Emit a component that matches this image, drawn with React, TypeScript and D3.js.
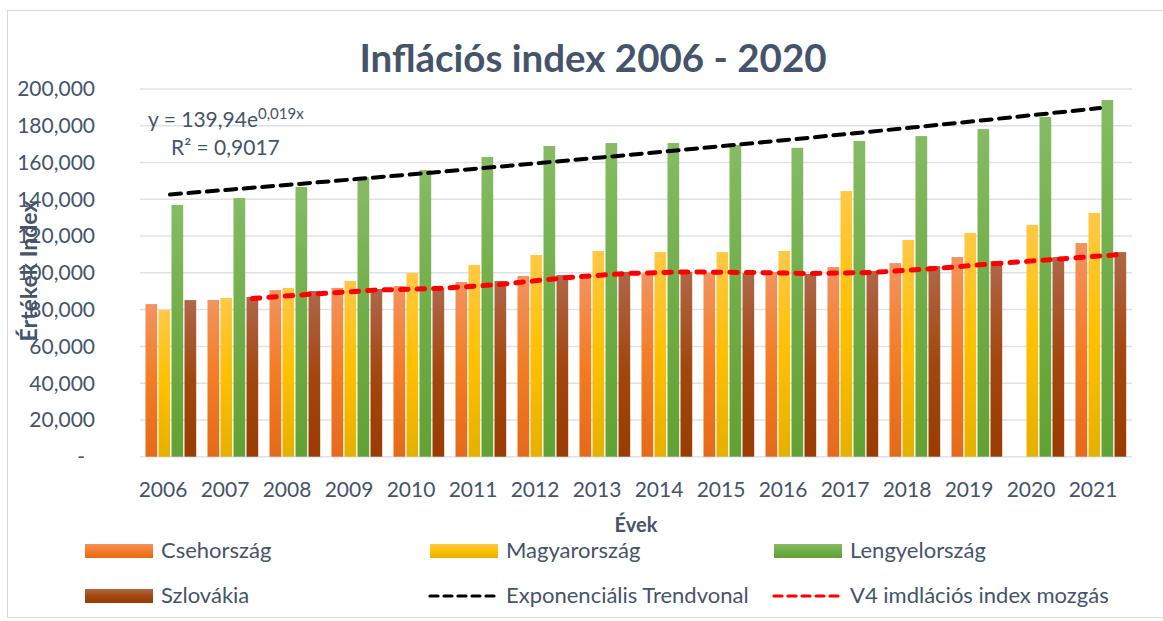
import React from "react";
import * as d3 from "d3";

const years = ["2006","2007","2008","2009","2010","2011","2012","2013","2014","2015","2016","2017","2018","2019","2020","2021"];
const cseh: (number | null)[] = [83.0, 85.2, 90.6, 91.8, 92.8, 95.0, 98.3, 98.9, 99.8, 100.1, 100.5, 103.2, 105.3, 108.6, null, 116.2];
const magyar = [79.8, 86.3, 91.8, 95.6, 99.9, 104.3, 109.7, 111.9, 111.3, 111.3, 111.9, 144.5, 117.9, 121.7, 126.1, 132.6];
const lengyel = [136.9, 140.7, 146.7, 152.0, 155.9, 163.0, 169.0, 170.6, 170.6, 169.5, 168.0, 171.7, 174.4, 178.2, 184.8, 194.0];
const szlovak = [85.2, 86.9, 90.1, 91.2, 91.8, 95.6, 98.8, 100.5, 100.5, 99.9, 99.4, 101.0, 103.7, 106.4, 108.6, 111.3];
const yTicks = [0, 20, 40, 60, 80, 100, 120, 140, 160, 180, 200];
const trendA = 139.94;
const trendB = 0.019;

const seriesNames = ["Csehország", "Magyarország", "Lengyelország", "Szlovákia"];
const seriesData = [cseh, magyar, lengyel, szlovak];
const gradIds = ["gCseh", "gMagyar", "gLengyel", "gSzlovak"];
const gradStops = [
  ["#F2935F", "#F47C24", "#E5691A"],
  ["#FFC846", "#FFC000", "#E6B000"],
  ["#86BB64", "#70AD47", "#62A133"],
  ["#AF6749", "#A3470F", "#9A3C00"],
];

const FONT = "Lato, 'Open Sans', sans-serif";
const TXT = "#44546A";

export default function App() {
  const plotL = 140, plotR = 1132, plotT = 89, plotB = 456.7;
  const y = d3.scaleLinear().domain([0, 200]).range([plotB, plotT]);
  const x0 = d3.scaleBand<string>().domain(years).range([plotL, plotR]).paddingInner(0).paddingOuter(0);
  const bw = x0.bandwidth();
  const x1 = d3.scaleBand<string>().domain(seriesNames).range([5.5, bw - 4.5]);
  const slot = x1.bandwidth();
  const barW = slot - 1.3;

  const trendPts: [number, number][] = years.map((yr, i) => [
    (x0(yr) as number) + bw / 2 - 1,
    y(trendA * Math.exp(trendB * (i + 1))),
  ]);
  const maPts: [number, number][] = [];
  for (let i = 1; i < years.length; i++) {
    maPts.push([
      (x0(years[i]) as number) + (x1("Szlovákia") as number) + barW / 2,
      y((szlovak[i - 1] + szlovak[i]) / 2),
    ]);
  }
  const line = d3.line();
  const fmt = (v: number) => (v === 0 ? "-" : d3.format(",.0f")(v * 1000));

  const legendRows = [
    [
      { kind: "bar", i: 0, x: 85, label: "Csehország" },
      { kind: "bar", i: 1, x: 430, label: "Magyarország" },
      { kind: "bar", i: 2, x: 774, label: "Lengyelország" },
    ],
    [
      { kind: "bar", i: 3, x: 85, label: "Szlovákia" },
      { kind: "black", i: 0, x: 430, label: "Exponenciális Trendvonal" },
      { kind: "red", i: 0, x: 774, label: "V4 imdlációs index mozgás" },
    ],
  ];
  const rowY = [544, 589];

  return (
    <div style={{ position: "absolute", left: 0, top: 0 }}>
      <svg width={1163} height={621} style={{ display: "block", background: "#fff" }}>
        <defs>
          {gradIds.map((id, k) => (
            <linearGradient key={id} id={id} x1="0" y1="0" x2="0" y2="1">
              <stop offset="0" stopColor={gradStops[k][0]} />
              <stop offset="0.5" stopColor={gradStops[k][1]} />
              <stop offset="1" stopColor={gradStops[k][2]} />
            </linearGradient>
          ))}
        </defs>
        <rect x={7.5} y={10.5} width={1200} height={607} fill="#fff" stroke="#D9D9D9" strokeWidth={1} />

        {/* gridlines */}
        {yTicks.map((t) => (
          <line key={t} x1={plotL} x2={plotR} y1={y(t)} y2={y(t)} stroke="#DEE2E7" strokeWidth={1.5} />
        ))}

        {/* y tick labels */}
        {yTicks.map((t) => (
          <text key={t} x={t === 0 ? 85 : 95} y={y(t)} dy="0.35em" textAnchor="end" fontFamily={FONT} fontSize={21} fill={TXT}>
            {fmt(t)}
          </text>
        ))}

        {/* bars */}
        {years.map((yr, i) => (
          <g key={yr} transform={`translate(${x0(yr)},0)`}>
            {seriesNames.map((s, k) => {
              const v = seriesData[k][i];
              if (v == null) return null;
              return (
                <rect key={s} x={(x1(s) as number)} y={y(v)} width={barW} height={y(0) - y(v)} fill={`url(#${gradIds[k]})`} />
              );
            })}
          </g>
        ))}

        {/* trend lines */}
        <path d={line(trendPts) || ""} fill="none" stroke="#000" strokeWidth={4} strokeDasharray="11 7.5" strokeLinecap="round" />
        <path d={line(maPts) || ""} fill="none" stroke="#FF0000" strokeWidth={5} strokeDasharray="7.5 9" strokeLinecap="round" />

        {/* x tick labels */}
        {years.map((yr) => (
          <text key={yr} x={(x0(yr) as number) + bw / 2 - 8} y={497} textAnchor="middle" fontFamily={FONT} fontSize={21} fill={TXT}>
            {yr}
          </text>
        ))}

        {/* title */}
        <text x={593} y={72} textAnchor="middle" fontFamily={FONT} fontWeight="bold" fontSize={38.5} fill={TXT}>
          Inflációs index 2006 - 2020
        </text>

        {/* equation */}
        <text x={148} y={127} fontFamily={FONT} fontSize={21} fill={TXT}>
          y = 139,94e<tspan fontSize={15} dy={-8}>0,019x</tspan>
        </text>
        <text x={171} y={155} fontFamily={FONT} fontSize={21} fill={TXT}>
          R² = 0,9017
        </text>

        {/* axis titles */}
        <text transform="translate(37,271) rotate(-90)" textAnchor="middle" fontFamily={FONT} fontWeight="bold" fontSize={23} fill={TXT}>
          Értékek Index
        </text>
        <text x={636} y={532} textAnchor="middle" fontFamily={FONT} fontWeight="bold" fontSize={20} fill={TXT}>
          Évek
        </text>

        {/* legend */}
        {legendRows.map((row, r) =>
          row.map((it) => (
            <g key={it.label}>
              {it.kind === "bar" ? (
                <rect x={it.x} y={rowY[r]} width={68} height={14} fill={`url(#${gradIds[it.i]})`} />
              ) : (
                <line
                  x1={it.x}
                  x2={it.x + 66}
                  y1={rowY[r] + 7}
                  y2={rowY[r] + 7}
                  stroke={it.kind === "black" ? "#000" : "#FF0000"}
                  strokeWidth={3.2}
                  strokeDasharray="8 6"
                  strokeLinecap="round"
                />
              )}
              <text x={it.x + 76} y={rowY[r] + 14} fontFamily={FONT} fontSize={22} fill={TXT}>
                {it.label}
              </text>
            </g>
          ))
        )}
      </svg>
    </div>
  );
}
